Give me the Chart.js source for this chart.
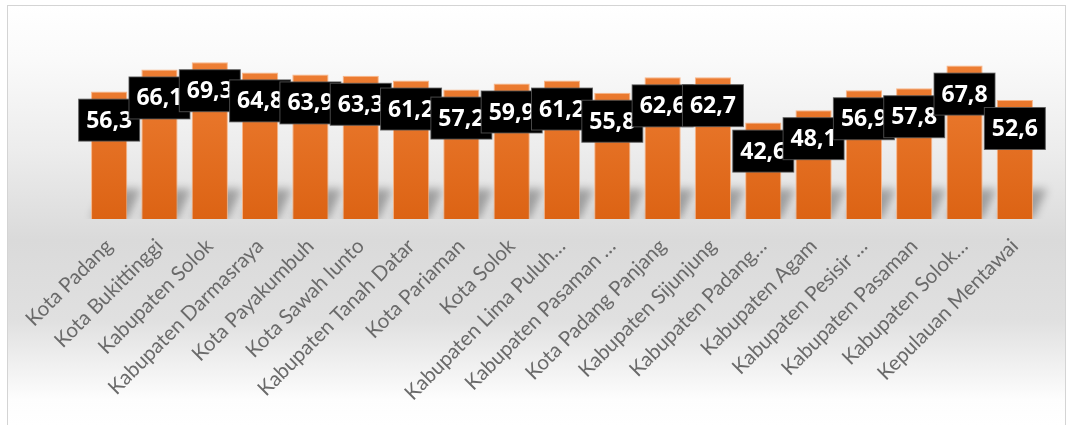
<!DOCTYPE html>
<html>
<head>
<meta charset="utf-8">
<script src="https://cdn.jsdelivr.net/npm/chart.js@4.4.1/dist/chart.umd.min.js"></script>
<style>
  html, body { margin: 0; padding: 0; background: #fff; overflow: hidden; }
  #wrap { width: 1070px; height: 425px; }
</style>
</head>
<body>
<div id="wrap"><canvas id="barChart" width="1070" height="425"></canvas></div>
<script>
const categories = [
    'Kota Padang', 'Kota Bukittinggi', 'Kabupaten Solok', 'Kabupaten Darmasraya',
    'Kota Payakumbuh', 'Kota Sawah lunto', 'Kabupaten Tanah Datar', 'Kota Pariaman',
    'Kota Solok', 'Kabupaten Lima Puluh…', 'Kabupaten Pasaman …', 'Kota Padang Panjang',
    'Kabupaten Sijunjung', 'Kabupaten Padang…', 'Kabupaten Agam', 'Kabupaten Pesisir …',
    'Kabupaten Pasaman', 'Kabupaten Solok…', 'Kepulauan Mentawai'
];
const values = [56.3, 66.1, 69.3, 64.8, 63.9, 63.3, 61.2, 57.2, 59.9, 61.2,
                55.8, 62.6, 62.7, 42.6, 48.1, 56.9, 57.8, 67.8, 52.6];

// frame + soft grey background
const backdrop = {
    id: 'backdrop',
    beforeDraw(chart) {
        const ctx = chart.ctx;
        const g = ctx.createLinearGradient(0, 5, 0, 425);
        g.addColorStop(0, '#ffffff');
        g.addColorStop(0.13, '#fafafa');
        g.addColorStop(0.35, '#ececec');
        g.addColorStop(0.56, '#dadada');
        g.addColorStop(0.75, '#e0e0e0');
        g.addColorStop(0.94, '#fdfdfd');
        g.addColorStop(1, '#ffffff');
        ctx.save();
        ctx.fillStyle = g;
        ctx.fillRect(7, 5, 1059, 425);
        ctx.strokeStyle = '#d4d4d4';
        ctx.lineWidth = 1;
        ctx.strokeRect(7.5, 5.5, 1058, 425);
        ctx.restore();
    }
};

// diagonal shadow at the foot of each bar
const footShadow = {
    id: 'footShadow',
    beforeDatasetsDraw(chart) {
        const ctx = chart.ctx, area = chart.chartArea;
        const meta = chart.getDatasetMeta(0);
        ctx.save();
        ctx.beginPath();
        ctx.rect(area.left - 30, area.top, area.width + 60, area.bottom - area.top);
        ctx.clip();
        ctx.filter = 'blur(4px)';
        ctx.fillStyle = 'rgba(0,0,0,0.30)';
        meta.data.forEach(bar => {
            const l = bar.x - bar.width / 2, r = bar.x + bar.width / 2, b = bar.base;
            ctx.beginPath();
            ctx.moveTo(l, b);
            ctx.lineTo(r, b);
            ctx.lineTo(r + 14, b - 30);
            ctx.lineTo(l + 14, b - 30);
            ctx.closePath();
            ctx.fill();
        });
        ctx.restore();
    }
};

// black value boxes, each one drawn over the previous
const valueBoxes = {
    id: 'valueBoxes',
    afterDatasetsDraw(chart) {
        const ctx = chart.ctx;
        const meta = chart.getDatasetMeta(0);
        ctx.save();
        ctx.font = 'bold 23px "Open Sans"';
        ctx.textAlign = 'center';
        ctx.textBaseline = 'middle';
        meta.data.forEach((bar, i) => {
            const cy = bar.y + 28.5;
            ctx.fillStyle = '#000';
            ctx.fillRect(bar.x - 30.5, cy - 21, 61, 42);
            ctx.strokeStyle = 'rgba(90,90,90,0.8)';
            ctx.lineWidth = 1;
            ctx.strokeRect(bar.x - 30.5, cy - 21, 61, 42);
            ctx.fillStyle = '#fff';
            ctx.fillText(values[i].toFixed(1).replace('.', ','), bar.x, cy + 1);
        });
        ctx.restore();
    }
};

const ctx = document.getElementById('barChart').getContext('2d');
const barFill = ctx.createLinearGradient(0, 60, 0, 219);
barFill.addColorStop(0, '#ee7f35');
barFill.addColorStop(1, '#dc6314');

const barChart = new Chart(ctx, {
    type: 'bar',
    data: {
        labels: categories,
        datasets: [{
            data: values,
            backgroundColor: barFill,
            borderColor: 'rgba(250,175,125,0.9)',
            borderWidth: 1,
            categoryPercentage: 1,
            barPercentage: 0.72
        }]
    },
    options: {
        responsive: false,
        animation: false,
        layout: { padding: { left: 84, right: 30, top: 38, bottom: 0 } },
        plugins: {
            legend: { display: false },
            tooltip: { enabled: false }
        },
        scales: {
            x: {
                grid: { display: false, drawTicks: false },
                border: { display: false },
                ticks: {
                    color: '#6a6a6a',
                    font: { family: 'Lato', size: 20.5 },
                    minRotation: 45,
                    maxRotation: 45,
                    autoSkip: false,
                    padding: 15
                },
                afterFit(s) {
                    s.height = 206;
                    s.paddingLeft = 0;
                    s.paddingRight = 0;
                }
            },
            y: {
                display: false,
                min: 0,
                max: 80
            }
        }
    },
    plugins: [backdrop, footShadow, valueBoxes]
});
</script>
</body>
</html>
